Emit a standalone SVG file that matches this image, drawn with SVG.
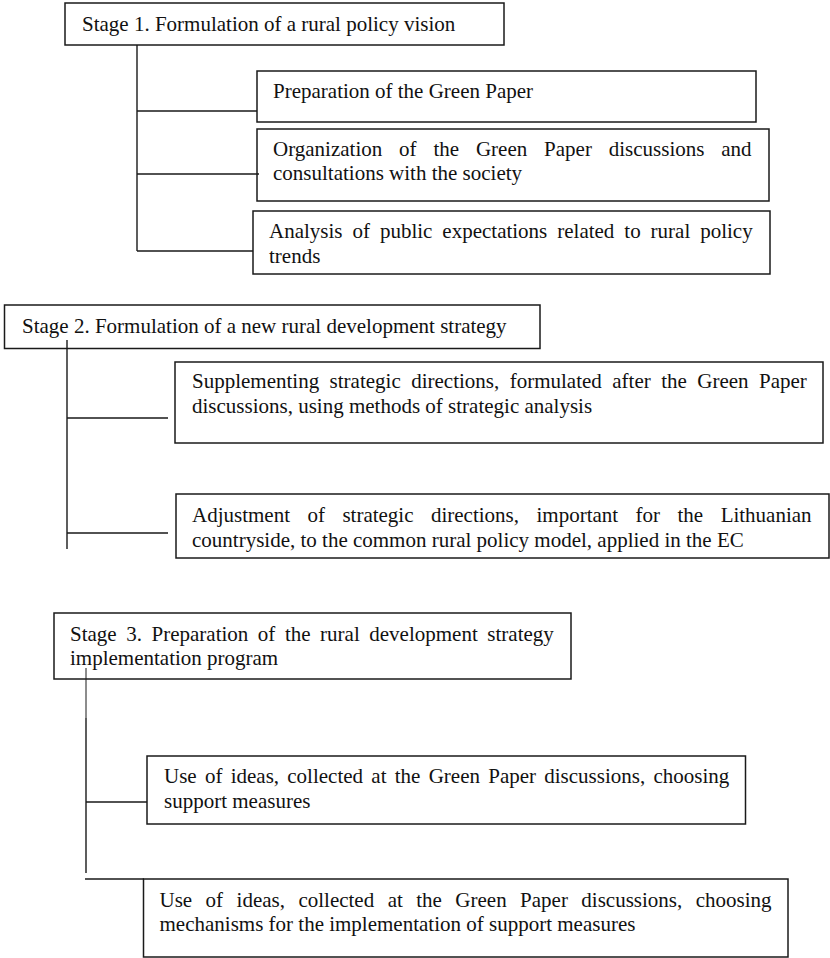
<svg xmlns="http://www.w3.org/2000/svg" width="830" height="958" viewBox="0 0 830 958">
<style>
.box{fill:#fff;stroke:#1a1a1a;stroke-width:1.5}
.ln{fill:none;stroke:#1a1a1a;stroke-width:1.4}
.thin{fill:none;stroke:#1a1a1a;stroke-width:1}
text{font-family:"Liberation Serif","Times New Roman",serif;font-size:21px;fill:#111}
</style>
<rect width="830" height="958" fill="#fff"/>
<g id="stage1">
<rect class="box" x="65" y="3" width="439" height="42"/>
<text x="82" y="31">Stage 1. Formulation of a rural policy vision</text>
</g>
<g id="s1-preparation">
<rect class="box" x="257" y="71" width="499" height="51"/>
<text x="273" y="98">Preparation of the Green Paper</text>
</g>
<g id="s1-organization">
<rect class="box" x="257" y="129" width="512" height="72"/>
<text x="273" y="156" word-spacing="11.6">Organization of the Green Paper discussions and</text>
<text x="273" y="180">consultations with the society</text>
</g>
<g id="s1-analysis">
<rect class="box" x="253" y="211" width="517" height="63"/>
<text x="269" y="238" word-spacing="4.7">Analysis of public expectations related to rural policy</text>
<text x="269" y="263">trends</text>
</g>
<g id="stage2">
<rect class="box" x="4.5" y="305" width="535.5" height="43.5"/>
<text x="22" y="333">Stage 2. Formulation of a new rural development strategy</text>
</g>
<g id="s2-supplementing">
<rect class="box" x="175" y="362" width="648" height="81"/>
<text x="192" y="388" word-spacing="5.2">Supplementing strategic directions, formulated after the Green Paper</text>
<text x="192" y="413">discussions, using methods of strategic analysis</text>
</g>
<g id="s2-adjustment">
<rect class="box" x="176" y="494" width="653" height="64"/>
<text x="192" y="522" word-spacing="12.2">Adjustment of strategic directions, important for the Lithuanian</text>
<text x="192" y="547">countryside, to the common rural policy model, applied in the EC</text>
</g>
<g id="stage3">
<rect class="box" x="54" y="613" width="517" height="66"/>
<text x="70" y="641" word-spacing="4.3">Stage 3. Preparation of the rural development strategy</text>
<text x="70" y="665">implementation program</text>
</g>
<g id="s3-support">
<rect class="box" x="147" y="756" width="598.5" height="68"/>
<text x="164" y="783" word-spacing="3">Use of ideas, collected at the Green Paper discussions, choosing</text>
<text x="164" y="808">support measures</text>
</g>
<g id="s3-mechanisms">
<rect class="box" x="143.5" y="879" width="644.5" height="78"/>
<text x="159.5" y="907" word-spacing="8.2">Use of ideas, collected at the Green Paper discussions, choosing</text>
<text x="159.5" y="931">mechanisms for the implementation of support measures</text>
</g>
<g id="connectors">
<path class="ln" d="M137 45V251M137 111H257M137 174H259M137 251H253"/>
<path class="ln" d="M67 340V549M67 418H168M67 533H168"/>
<path class="thin" d="M86 668V718"/>
<path class="ln" d="M86 718V873M86 802H147M85 879H144"/>
</g>
</svg>
